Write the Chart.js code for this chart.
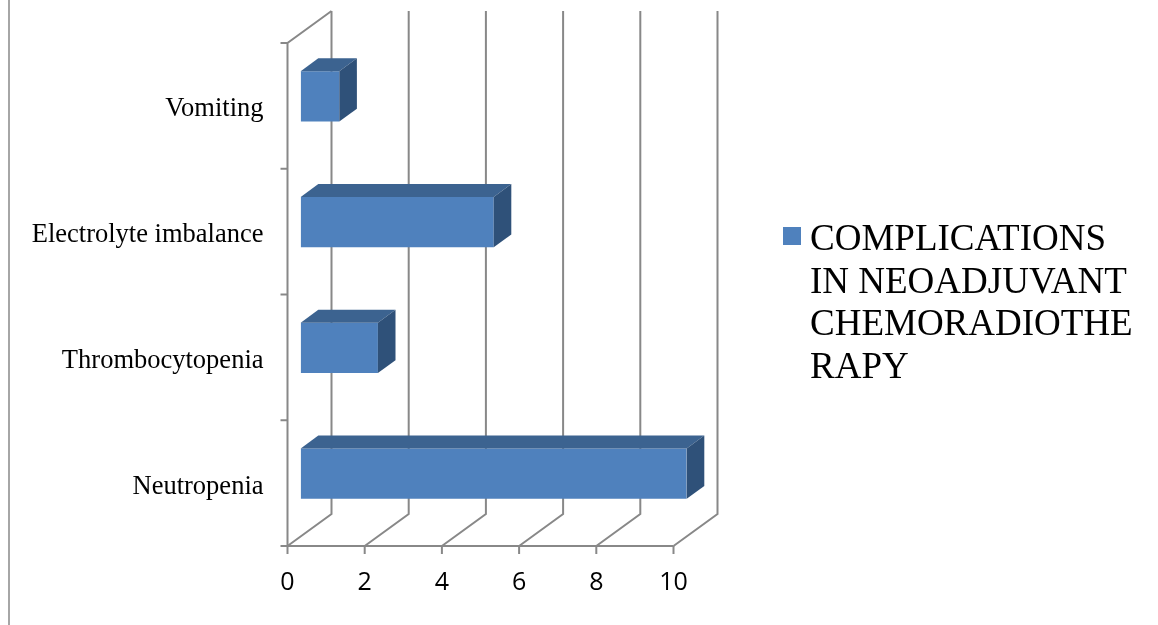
<!DOCTYPE html>
<html>
<head>
<meta charset="utf-8">
<style>
  html, body { margin: 0; padding: 0; background: #ffffff; }
  #wrap { position: relative; width: 1158px; height: 625px; }
</style>
<script src="https://cdn.jsdelivr.net/npm/chart.js@4.4.1/dist/chart.umd.min.js"></script>
</head>
<body>
<div id="wrap"><canvas id="chart" width="1158" height="625"></canvas></div>
<script>
// Categories listed top to bottom
const categories = ['Vomiting', 'Electrolyte imbalance', 'Thrombocytopenia', 'Neutropenia'];
const complications = [1, 5, 2, 10];
const xTickValues = [0, 2, 4, 6, 8, 10];
const seriesName = 'COMPLICATIONS IN NEOADJUVANT CHEMORADIOTHERAPY';
const legendLines = ['COMPLICATIONS', 'IN NEOADJUVANT', 'CHEMORADIOTHE', 'RAPY'];

// Depth of the 3D box; bars sit between 30% and 70% of it
const DEPTH_X = 44, DEPTH_Y = -32;
const FRONT = -0.3, BACK = 0.7, BAR_DEPTH = 0.4;

const FRONT_COLOR = '#4F81BD';
const TOP_COLOR = '#3C6390';
const SIDE_COLOR = '#2F5179';
const GRID_COLOR = '#888888';

const box3d = {
  id: 'box3d',
  beforeDatasetsDraw(chart) {
    const ctx = chart.ctx;
    const xs = chart.scales.x, ys = chart.scales.y;
    const fx = v => xs.getPixelForValue(v) + FRONT * DEPTH_X;
    const bx = v => xs.getPixelForValue(v) + BACK * DEPTH_X;
    const frontTop = ys.top + FRONT * DEPTH_Y;
    const frontBottom = ys.bottom + FRONT * DEPTH_Y;
    const backTop = ys.top + BACK * DEPTH_Y;
    const backBottom = ys.bottom + BACK * DEPTH_Y;

    ctx.save();
    // outer frame edge on the left
    ctx.strokeStyle = '#A6A6A6';
    ctx.lineWidth = 2;
    ctx.beginPath();
    ctx.moveTo(9, 0);
    ctx.lineTo(9, 625);
    ctx.stroke();

    ctx.strokeStyle = GRID_COLOR;
    ctx.lineWidth = 2;
    ctx.lineCap = 'butt';
    // back wall gridlines folding onto the floor
    xs.ticks.forEach(t => {
      ctx.beginPath();
      ctx.moveTo(bx(t.value), backTop);
      ctx.lineTo(bx(t.value), backBottom);
      ctx.lineTo(fx(t.value), frontBottom);
      ctx.stroke();
    });
    // left wall edges and front floor edge
    const x0 = fx(xs.min), x1 = fx(xs.max);
    ctx.beginPath();
    ctx.moveTo(bx(xs.min), backTop);
    ctx.lineTo(x0, frontTop);
    ctx.lineTo(x0, frontBottom);
    ctx.lineTo(x1, frontBottom);
    ctx.stroke();
    // value axis tick marks
    xs.ticks.forEach(t => {
      ctx.beginPath();
      ctx.moveTo(fx(t.value), frontBottom);
      ctx.lineTo(fx(t.value), frontBottom + 8);
      ctx.stroke();
    });
    // category tick marks at band edges
    const band = (frontBottom - frontTop) / categories.length;
    for (let i = 0; i <= categories.length; i++) {
      const y = frontTop + i * band;
      ctx.beginPath();
      ctx.moveTo(x0 - 7, y);
      ctx.lineTo(x0, y);
      ctx.stroke();
    }

    // value axis labels
    ctx.fillStyle = '#000000';
    ctx.font = '25px "Open Sans", sans-serif';
    ctx.textAlign = 'center';
    ctx.textBaseline = 'middle';
    xs.ticks.forEach(t => {
      ctx.fillText(String(t.value), fx(t.value), frontBottom + 37);
    });
    // category labels
    ctx.font = '26.5px "Liberation Serif", "Times New Roman", serif';
    ctx.textAlign = 'right';
    ctx.textBaseline = 'alphabetic';
    categories.forEach((c, i) => {
      const y = ys.getPixelForValue(i) + FRONT * DEPTH_Y;
      ctx.fillText(c, x0 - 24, y + 10.5);
    });

    // legend
    ctx.fillStyle = FRONT_COLOR;
    ctx.fillRect(783, 227, 18, 18);
    ctx.fillStyle = '#000000';
    ctx.font = '37px "Liberation Serif", "Times New Roman", serif';
    ctx.textAlign = 'left';
    legendLines.forEach((line, i) => {
      ctx.fillText(line, 810, 250 + i * 42.5);
    });
    ctx.restore();
  },
  afterDatasetsDraw(chart) {
    const ctx = chart.ctx;
    const dx = BAR_DEPTH * DEPTH_X, dy = BAR_DEPTH * DEPTH_Y;
    const meta = chart.getDatasetMeta(0);
    ctx.save();
    meta.data.forEach(el => {
      const p = el.getProps(['x', 'y', 'base', 'height'], true);
      const top = p.y - p.height / 2, bottom = p.y + p.height / 2;
      // top face
      ctx.fillStyle = TOP_COLOR;
      ctx.beginPath();
      ctx.moveTo(p.base, top);
      ctx.lineTo(p.x, top);
      ctx.lineTo(p.x + dx, top + dy);
      ctx.lineTo(p.base + dx, top + dy);
      ctx.closePath();
      ctx.fill();
      // end face
      ctx.fillStyle = SIDE_COLOR;
      ctx.beginPath();
      ctx.moveTo(p.x, top);
      ctx.lineTo(p.x + dx, top + dy);
      ctx.lineTo(p.x + dx, bottom + dy);
      ctx.lineTo(p.x, bottom);
      ctx.closePath();
      ctx.fill();
    });
    ctx.restore();
  }
};

new Chart(document.getElementById('chart'), {
  type: 'bar',
  data: {
    labels: categories,
    datasets: [{
      label: seriesName,
      data: complications,
      backgroundColor: FRONT_COLOR,
      borderWidth: 0,
      categoryPercentage: 1,
      barPercentage: 0.4
    }]
  },
  options: {
    indexAxis: 'y',
    responsive: false,
    animation: false,
    devicePixelRatio: 1,
    layout: { padding: { left: 300.7, right: 471.3, top: 33.4, bottom: 88.6 } },
    plugins: { legend: { display: false }, tooltip: { enabled: false } },
    scales: {
      x: {
        display: false,
        min: 0,
        max: 10,
        afterBuildTicks(scale) { scale.ticks = xTickValues.map(v => ({ value: v })); }
      },
      y: { display: false, offset: true }
    }
  },
  plugins: [box3d]
});
</script>
</body>
</html>
